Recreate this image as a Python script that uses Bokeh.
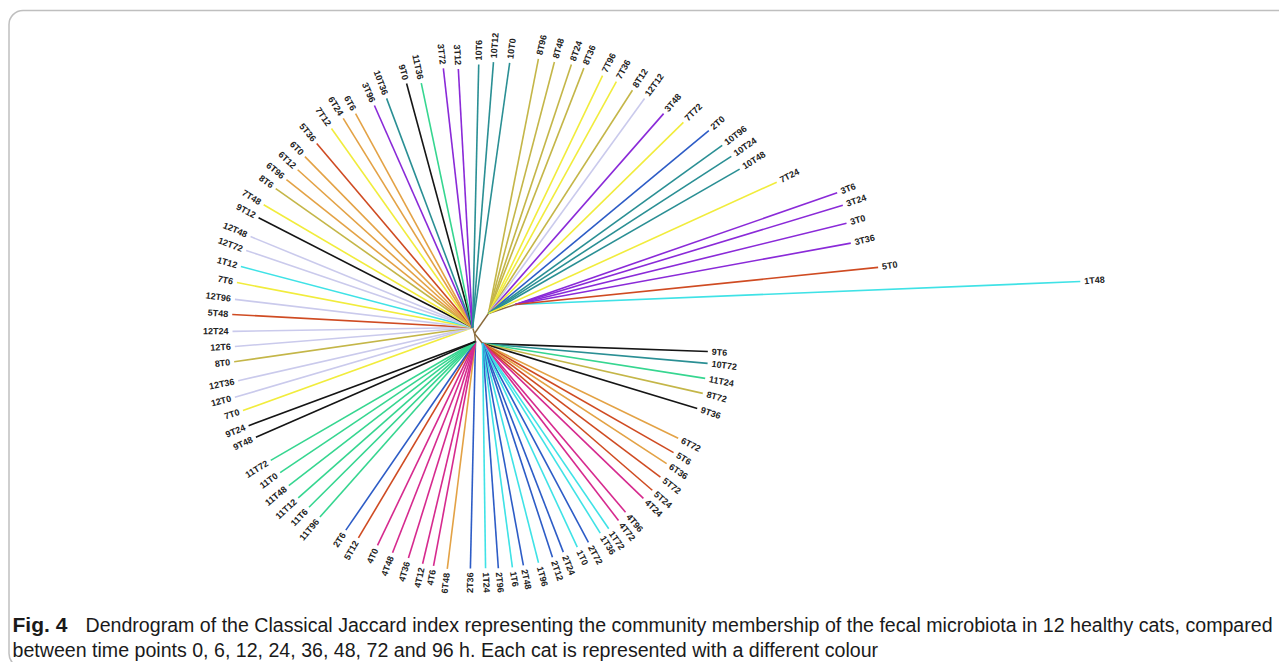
import math
from bokeh.plotting import figure
from bokeh.models import ColumnDataSource, Range1d, BoxAnnotation, Label
from bokeh.embed import file_html
from bokeh.resources import INLINE
from bokeh.core.properties import value

# ---- data: leaves listed clockwise, starting at the long 1T48 branch ----
labels = ["1T48", "9T6", "10T72", "11T24", "8T72", "9T36", "6T72", "5T6", "6T36", "5T72",
          "5T24", "4T24", "4T96", "4T72", "1T72", "1T36", "2T72", "1T0", "2T24", "2T12",
          "1T96", "2T48", "1T6", "2T96", "1T24", "2T36", "6T48", "4T6", "4T12", "4T36",
          "4T48", "4T0", "5T12", "2T6", "11T96", "11T6", "11T12", "11T48", "11T0", "11T72",
          "9T48", "9T24", "7T0", "12T0", "12T36", "8T0", "12T6", "12T24", "5T48", "12T96",
          "7T6", "1T12", "12T72", "12T48", "9T12", "7T48", "8T6", "6T96", "6T12", "6T0",
          "5T36", "7T12", "6T24", "6T6", "3T96", "10T36", "9T0", "11T36", "3T72", "3T12",
          "10T6", "10T12", "10T0", "8T96", "8T48", "8T24", "8T36", "7T96", "7T36", "8T12",
          "12T12", "3T48", "7T72", "2T0", "10T96", "10T24", "10T48", "7T24", "3T6", "3T24",
          "3T0", "3T36", "5T0"]

leaf_angle_deg = [4.9, -4.4, -7.3, -11.0, -14.7, -18.6, -27.2, -30.9, -34.1, -37.7,
                  -41.4, -44.3, -49.8, -52.4, -55.5, -57.8, -61.4, -64.3, -67.9, -70.8,
                  -74.4, -78.1, -80.8, -84.2, -87.3, -91.0, -96.6, -100.0, -102.7, -106.4,
                  -110.5, -114.6, -119.6, -123.2, -130.1, -133.6, -137.0, -140.7, -144.4, -148.1,
                  -154.6, -157.8, -161.6, -165.1, -168.7, -173.3, -176.9, 179.5, 175.5, 171.9,
                  167.9, 164.0, 160.0, 156.6, 151.8, 148.6, 143.9, 140.7, 137.2, 133.8,
                  129.7, 124.9, 121.4, 118.4, 113.7, 110.5, 105.2, 102.0, 96.7, 93.5,
                  89.1, 86.0, 82.6, 76.9, 73.6, 70.2, 67.6, 63.6, 60.6, 57.0,
                  54.1, 49.3, 45.3, 40.9, 37.2, 34.6, 31.8, 26.6, 21.2, 19.2,
                  16.5, 13.5, 9.3]

leaf_distance = [608, 234, 235, 235, 236, 235, 229, 232, 232, 235,
                 237, 236, 234, 236, 237, 236, 238, 237, 236, 237,
                 238, 237, 237, 236, 235, 235, 237, 236, 236, 234,
                 234, 233, 235, 235, 240, 240, 241, 240, 239, 240,
                 242, 244, 244, 248, 241, 242, 240, 242, 243, 242,
                 243, 243, 243, 244, 245, 247, 246, 243, 241, 245,
                 247, 250, 252, 250, 249, 251, 259, 256, 267, 265,
                 269, 272, 273, 282, 283, 286, 287, 288, 289, 290,
                 290, 290, 297, 310, 311, 312, 312, 338, 389, 390,
                 388, 387, 409]

# clade membership (consecutive runs of leaves)
clade_order = ["H3", "LR", "LL", "UL", "UR", "H3"]
clade_sizes = [1, 24, 17, 31, 15, 5]

# internal nodes: (angle deg, distance from root, parent)
internal_nodes = {
    "UL": (108.0, 6.3, "root"),
    "UR": (55.0, 24.4, "root"),
    "H3": (35.3, 50.2, "UR"),
    "LL": (-83.0, 8.0, "root"),
    "LR": (-51.0, 12.8, "root"),
}

cat_colors = {1: "#3fe2e6", 2: "#2d5cc6", 3: "#8a2ad8", 4: "#d62a8e", 5: "#cf4b22",
              6: "#e3a245", 7: "#f1ec3c", 8: "#c4b648", 9: "#151515", 10: "#2a8f94",
              11: "#36d690", 12: "#cacaec"}

caption_bold = "Fig. 4"
caption_1 = ("Dendrogram of the Classical Jaccard index representing the community membership "
             "of the fecal microbiota in 12 healthy cats, compared")
caption_2 = ("between time points 0, 6, 12, 24, 36, 48, 72 and 96 h. Each cat is represented "
             "with a different colour")

# ---- layout ----
W, H = 1279, 662
p = figure(width=W, height=H, x_range=Range1d(0, W), y_range=Range1d(670 - H, 670),
           output_backend="svg", toolbar_location=None, min_border=0,
           x_axis_location=None, y_axis_location=None)
p.grid.visible = False
p.outline_line_color = None
p.background_fill_color = "white"
p.border_fill_color = "white"

root = (474.0, 337.0)

def polar(origin, ang, dist):
    a = math.radians(ang)
    return origin[0] + dist * math.cos(a), origin[1] + dist * math.sin(a)

node_xy = {"root": root}
for name, (ang, dist, parent) in internal_nodes.items():
    node_xy[name] = polar(root, ang, dist)

# internal edges
ex0, ey0, ex1, ey1 = [], [], [], []
for name, (ang, dist, parent) in internal_nodes.items():
    px, py = node_xy[parent]
    cx, cy = node_xy[name]
    ex0.append(px); ey0.append(py); ex1.append(cx); ey1.append(cy)
p.segment(ex0, ey0, ex1, ey1, line_color="#8a6a3a", line_width=1.4)

leaf_clade = []
for c, n in zip(clade_order, clade_sizes):
    leaf_clade += [c] * n

x0, y0, x1, y1, cols = [], [], [], [], []
rt = dict(x=[], y=[], t=[], a=[])
lt = dict(x=[], y=[], t=[], a=[])
for lab, ang, dist, cl in zip(labels, leaf_angle_deg, leaf_distance, leaf_clade):
    cat = int(lab.split("T")[0])
    hx, hy = node_xy[cl]
    ex, ey = polar(root, ang, dist)
    x0.append(hx); y0.append(hy); x1.append(ex); y1.append(ey)
    cols.append(cat_colors[cat])
    tx, ty = polar(root, ang, dist + 4)
    if -90 <= ang <= 90:
        rt["x"].append(tx); rt["y"].append(ty); rt["t"].append(lab); rt["a"].append(math.radians(ang))
    else:
        lt["x"].append(tx); lt["y"].append(ty); lt["t"].append(lab); lt["a"].append(math.radians(ang - 180))

p.segment(x0=x0, y0=y0, x1=x1, y1=y1, line_color=cols, line_width=1.6)

for d, align in ((rt, "left"), (lt, "right")):
    p.text(x="x", y="y", text="t", angle="a", source=ColumnDataSource(d),
           text_align=align, text_baseline="middle", text_font=value("Liberation Sans"),
           text_font_size="9px", text_font_style="bold", text_color="#222222")

# frame
p.add_layout(BoxAnnotation(left=8.5, right=1320, bottom=3, top=660, fill_alpha=0,
                           line_color="#2a2a2a", line_width=1.5, border_radius=14))

# caption
p.add_layout(Label(x=12, y=46, text=caption_bold, text_font="Liberation Sans",
                   text_font_style="bold", text_font_size="21px", text_baseline="middle",
                   text_color="#1a1a1a"))
p.add_layout(Label(x=85, y=46, text=caption_1, text_font="Liberation Sans",
                   text_font_size="19.6px", text_baseline="middle", text_color="#1a1a1a"))
p.add_layout(Label(x=12, y=21, text=caption_2, text_font="Liberation Sans",
                   text_font_size="19.6px", text_baseline="middle", text_color="#1a1a1a"))

open("out.html", "w").write(file_html(p, INLINE))
